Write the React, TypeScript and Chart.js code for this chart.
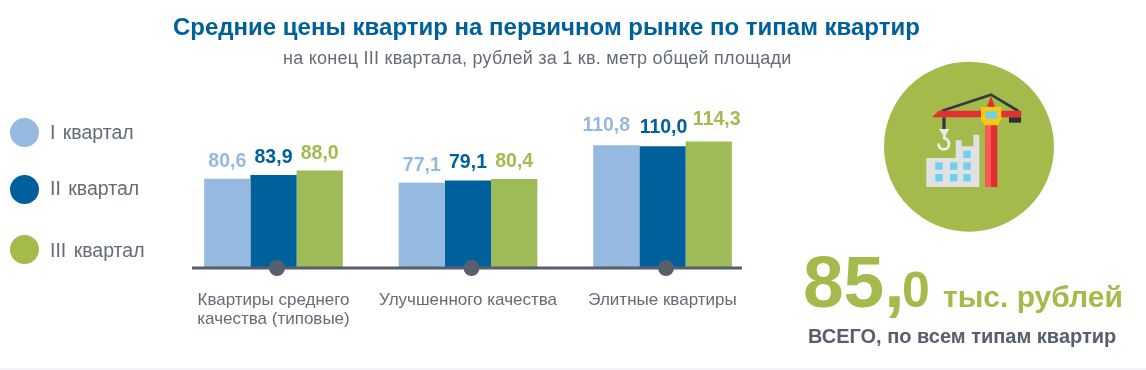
import React, { useEffect, useRef } from "react";
import { Chart, registerables } from "chart.js";

Chart.register(...registerables);

const categories: (string | string[])[] = [
  ["Квартиры среднего", "качества (типовые)"],
  "Улучшенного качества",
  "Элитные квартиры",
];
const seriesNames = ["I квартал", "II квартал", "III квартал"];
const q1 = [80.6, 77.1, 110.8];
const q2 = [83.9, 79.1, 110.0];
const q3 = [88.0, 80.4, 114.3];
const colors = ["#95b9df", "#00609c", "#9dbb57"];
const labelColors = ["#95b9df", "#00609c", "#a3bb4e"];
const legendColors = ["#95b9df", "#00609c", "#a4ba4a"];
const legendDotCentres = [132, 189, 249.5];
const legendTextTops = [123, 179, 240.5];
// Nudges of the value labels above the third group, per series
const lastGroupDx = [-10, 1, 8];
const lastGroupGap = [14, 13, 16];
const titleText = "Средние цены квартир на первичном рынке по типам квартир";
const subtitleText = "на конец III квартала, рублей за 1 кв. метр общей площади";

const FONT = '"Liberation Sans", Arial, sans-serif';
const GREY = "#646c76";
const SLATE = "#565f6b";

const overlayPlugin = {
  id: "overlay",
  afterDatasetsDraw(chart: any) {
    const { ctx, scales } = chart;
    const base = scales.y.getPixelForValue(0);
    ctx.save();
    ctx.strokeStyle = SLATE;
    ctx.lineWidth = 3;
    ctx.beginPath();
    ctx.moveTo(192, base);
    ctx.lineTo(742, base);
    ctx.stroke();
    ctx.fillStyle = SLATE;
    categories.forEach((_, i) => {
      ctx.beginPath();
      ctx.arc(scales.x.getPixelForValue(i) + 3.5, base, 8, 0, Math.PI * 2);
      ctx.fill();
    });
    ctx.font = `bold 19.5px ${FONT}`;
    ctx.textAlign = "center";
    ctx.textBaseline = "alphabetic";
    chart.data.datasets.forEach((ds: any, di: number) => {
      chart.getDatasetMeta(di).data.forEach((bar: any, i: number) => {
        const last = i === categories.length - 1;
        ctx.fillStyle = labelColors[di];
        ctx.fillText(
          ds.data[i].toFixed(1).replace(".", ","),
          bar.x + (last ? lastGroupDx[di] : 0),
          bar.y - (last ? lastGroupGap[di] : 12),
        );
      });
    });
    ctx.restore();
  },
};

function Text({ x, y, style, children }: any) {
  return (
    <div style={{ position: "absolute", left: x, top: y, whiteSpace: "nowrap", fontFamily: FONT, lineHeight: 1, ...style }}>
      {children}
    </div>
  );
}

function CraneIcon() {
  return (
    <svg width={180} height={180} viewBox="0 0 540 540" style={{ position: "absolute", left: 880, top: 60 }}>
      <circle cx="267" cy="260" r="255" fill="#a4ba4a" />
      <path d="M185 153 L333 104 L415 153" fill="none" stroke="#333a40" strokeWidth="8" />
      <path d="M158 170 L176 152 H424 V172 H158 Z" fill="#e1302f" />
      <path d="M321 140 L333 108 L345 140 Z" fill="#e1302f" />
      <rect x="316" y="190" width="36" height="191" fill="#e1302f" />
      <rect x="316" y="190" width="17" height="191" fill="#fb5a57" />
      <path d="M303 141 H364 V180 L352 196 H316 L303 180 Z" fill="#fbc913" />
      <rect x="317" y="154" width="35" height="22" fill="#6fd0ea" />
      <rect x="387" y="172" width="36" height="16" fill="#2b2f33" />
      <rect x="187" y="172" width="10" height="36" fill="#333a40" />
      <path d="M177 207 H208 L198 225 H188 Z" fill="#e8e8e8" />
      <path d="M193 225 V235 C212 240 212 268 190 268 C180 268 175 260 176 250" fill="none" stroke="#eeeeee" strokeWidth="8" />
      <path d="M139 294 H227 V241 H245 V259 H280 V224 H298 V381 H139 Z" fill="#e0e1e3" />
      {[[250, 272], [166, 307], [210, 307], [250, 307], [166, 342], [210, 342], [250, 342]].map(([x, y], i) => (
        <rect key={i} x={x} y={y} width="22" height="22" fill="#6fd0ee" />
      ))}
    </svg>
  );
}

export default function App() {
  const ref = useRef<HTMLCanvasElement>(null);
  useEffect(() => {
    document.body.style.margin = "0";
    const chart = new Chart(ref.current!, {
      type: "bar",
      data: {
        labels: categories as any,
        datasets: [q1, q2, q3].map((data, i) => ({
          label: seriesNames[i],
          data,
          backgroundColor: colors[i],
          categoryPercentage: 0.713,
          barPercentage: 1,
        })),
      },
      options: {
        animation: false,
        responsive: false,
        layout: { padding: { left: 176.25, right: 386.25, top: 113, bottom: 0 } },
        plugins: { legend: { display: false }, title: { display: false }, tooltip: { enabled: false } },
        scales: {
          y: { display: false, min: 0, max: 140 },
          x: {
            afterFit: (s: any) => { s.height = 102; },
            grid: { display: false },
            border: { display: false },
            ticks: { color: GREY, font: { family: FONT, size: 17, lineHeight: 1.1 }, padding: 15, maxRotation: 0, autoSkip: false },
          },
        },
      } as any,
      plugins: [overlayPlugin],
    });
    return () => chart.destroy();
  }, []);
  return (
    <div style={{ position: "relative", width: 1146, height: 370, overflow: "hidden", background: "#fff" }}>
      <canvas ref={ref} width={1146} height={370} style={{ position: "absolute", left: 0, top: 0 }} />
      <Text x={173} y={15} style={{ fontWeight: 700, fontSize: 24, color: "#00609c" }}>{titleText}</Text>
      <Text x={283} y={49} style={{ fontSize: 18, letterSpacing: 0.25, color: GREY }}>{subtitleText}</Text>
      {seriesNames.map((n, i) => (
        <React.Fragment key={n}>
          <div style={{ position: "absolute", left: 9.5, top: legendDotCentres[i] - 14.5, width: 29, height: 29, borderRadius: "50%", background: legendColors[i] }} />
          <Text x={50} y={legendTextTops[i]} style={{ fontSize: 19.5, wordSpacing: 2, color: GREY }}>{n}</Text>
        </React.Fragment>
      ))}
      <CraneIcon />
      <Text x={803} y={245} style={{ fontWeight: 700, fontSize: 73, color: "#a4ba4a" }}>85,</Text>
      <Text x={902} y={265} style={{ fontWeight: 700, fontSize: 50, color: "#a4ba4a" }}>0</Text>
      <Text x={943} y={282} style={{ fontWeight: 700, fontSize: 30, color: "#a4ba4a" }}>тыс. рублей</Text>
      <Text x={808} y={326} style={{ fontWeight: 700, fontSize: 20, color: SLATE }}>ВСЕГО, по всем типам квартир</Text>
      <div style={{ position: "absolute", left: 0, top: 368, width: 1146, height: 2, background: "#f2f4f8" }} />
    </div>
  );
}
